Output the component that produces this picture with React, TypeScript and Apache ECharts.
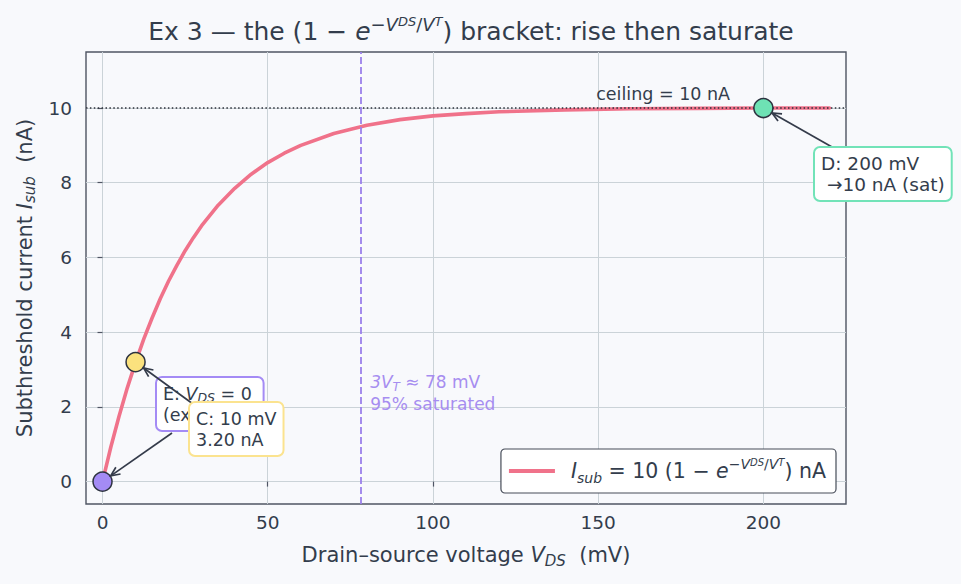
import React, { useEffect, useRef } from "react";
import * as echarts from "echarts";

// V_DS (mV) and I_sub (nA)
const vds = [0, 2.5, 5, 7.5, 10, 12.5, 15, 17.5, 20, 22.5, 25, 27.5, 30, 35, 40, 45, 50, 55, 60, 70, 80, 90, 100, 110, 120, 140, 160, 180, 200, 220];
const isub = [0, 0.92, 1.75, 2.51, 3.19, 3.82, 4.38, 4.9, 5.37, 5.79, 6.18, 6.53, 6.85, 7.4, 7.85, 8.23, 8.54, 8.79, 9.0, 9.32, 9.54, 9.69, 9.79, 9.85, 9.9, 9.95, 9.98, 9.99, 10.0, 10.0];
const xTicks = [0, 50, 100, 150, 200];
const yTicks = [0, 2, 4, 6, 8, 10];
const ceiling = 10;
const threeVt = 78;
const markerNames = ["E", "C", "D"];
const markerV = [0, 10, 200];
const markerI = [0, 3.2, 10];
const markerColors = ["#a48bf5", "#fbe27e", "#6ee2b4"];

const F = "DejaVu Sans";
const INK = "#333d4c";

export default function App() {
  const ref = useRef<HTMLDivElement>(null);
  useEffect(() => {
    const chart = echarts.init(ref.current!, null, { renderer: "svg" });
    const curve = vds.map((v, i) => [v, isub[i]]);
    const pts = markerV.map((v, i) => ({
      value: [v, markerI[i]],
      name: markerNames[i],
      itemStyle: { color: markerColors[i] },
    }));
    const mathRich = (n: number, lh: number) => {
      const base = { fontFamily: F, color: INK, fontWeight: "normal" as const };
      return {
        n: { ...base, fontSize: n, lineHeight: lh },
        i: { ...base, fontSize: n, fontStyle: "italic", lineHeight: lh },
        s: { ...base, fontSize: Math.round(n * 0.7), fontStyle: "italic", lineHeight: Math.round(n * 0.8), verticalAlign: "bottom" },
        sp: { ...base, fontSize: Math.round(n * 0.7), lineHeight: Math.round(n * 0.75), verticalAlign: "top" },
        spi: { ...base, fontSize: Math.round(n * 0.7), fontStyle: "italic", lineHeight: Math.round(n * 0.75), verticalAlign: "top" },
        sps: { ...base, fontSize: Math.round(n * 0.5), fontStyle: "italic", lineHeight: Math.round(n * 0.95), verticalAlign: "top" },
        g: { width: 11 },
      };
    };

    const option: any = {
      animation: false,
      backgroundColor: "#f8f9fc",
      title: {
        text: "{n|Ex 3 — the (1 − }{i|e}{sp|−}{spi|V}{sps|DS}{sp|/}{spi|V}{sps|T}{n|) bracket: rise then saturate}",
        left: 466,
        textAlign: "center",
        top: 10,
        textStyle: { fontWeight: "normal", rich: mathRich(25, 32) },
      },
      grid: { left: 86, right: 115, top: 52, bottom: 80, show: true, borderColor: "#4f5563", borderWidth: 1.4, backgroundColor: "transparent" },
      legend: {
        data: ["curve"],
        right: 125,
        bottom: 91,
        padding: [8, 10, 8, 8],
        icon: "rect",
        itemWidth: 46,
        itemHeight: 4,
        backgroundColor: "#ffffff",
        borderColor: "#474d59",
        borderWidth: 1.2,
        borderRadius: 4,
        formatter: () => "{g| }{i|I}{s|sub}{n| = 10 (1 − }{i|e}{sp|−}{spi|V}{sps|DS}{sp|/}{spi|V}{sps|T}{n|) nA}",
        textStyle: { rich: mathRich(20.5, 28) },
      },
      xAxis: {
        type: "value",
        min: -5,
        max: 225,
        name: "{n|Drain–source voltage }{i|V}{s|DS}{n|  (mV)}",
        nameLocation: "middle",
        nameGap: 38,
        nameTextStyle: { rich: mathRich(21, 26) },
        axisLine: { show: false },
        axisTick: { show: true, customValues: xTicks, length: 5, lineStyle: { color: "#4f5563", width: 1.2 } },
        axisLabel: { customValues: xTicks, fontFamily: F, fontSize: 18.5, color: INK, margin: 9 },
        splitLine: { show: true, lineStyle: { color: "#cbd3d8", width: 1 } },
      },
      yAxis: {
        type: "value",
        min: -0.6,
        max: 11.5,
        name: "{n|Subthreshold current }{i|I}{s|sub}{n|  (nA)}",
        nameLocation: "middle",
        nameGap: 47,
        nameRotate: 90,
        nameTextStyle: { rich: mathRich(21, 26) },
        axisLine: { show: false },
        axisTick: { show: true, customValues: yTicks, length: 5, lineStyle: { color: "#4f5563", width: 1.2 } },
        axisLabel: { customValues: yTicks, fontFamily: F, fontSize: 18.5, color: INK, margin: 14 },
        splitLine: { show: true, lineStyle: { color: "#cbd3d8", width: 1 } },
      },
      series: [
        {
          name: "curve",
          type: "line",
          data: curve,
          smooth: false,
          symbol: "none",
          lineStyle: { color: "#f0728a", width: 3.6, join: "round", cap: "round" },
          itemStyle: { color: "#f0728a" },
          z: 3,
        },
        {
          name: "refs",
          type: "line",
          data: [],
          z: 4,
          markLine: {
            silent: true,
            symbol: "none",
            label: { show: false },
            data: [
              { yAxis: ceiling, lineStyle: { color: "#2b2f38", type: [1.5, 2.4], width: 1.5 } },
              { xAxis: threeVt, lineStyle: { color: "#9b80ea", type: [7, 3], width: 1.8 } },
            ],
          },
        },
        {
          name: "markers",
          type: "scatter",
          data: pts,
          symbolSize: 19,
          itemStyle: { borderColor: "#2d3340", borderWidth: 1.5, opacity: 1 },
          z: 6,
        },
      ],
    };
    chart.setOption(option);

    const px = (v: number, i: number) => chart.convertToPixel({ gridIndex: 0 }, [v, i]) as number[];
    const arrow = (x1: number, y1: number, tx: number, ty: number, z: number) => {
      const ang = Math.atan2(ty - y1, tx - x1);
      const r = 10;
      const x2 = tx - r * Math.cos(ang);
      const y2 = ty - r * Math.sin(ang);
      const L = 10, a = 0.42;
      return [
        { type: "line", z, shape: { x1, y1, x2, y2 }, style: { stroke: "#343b4a", lineWidth: 1.7 } },
        {
          type: "polyline",
          z,
          shape: { points: [[x2 - L * Math.cos(ang - a), y2 - L * Math.sin(ang - a)], [x2, y2], [x2 - L * Math.cos(ang + a), y2 - L * Math.sin(ang + a)]] },
          style: { stroke: "#343b4a", lineWidth: 1.7, fill: null },
        },
      ];
    };
    const box = (x: number, y: number, text: string, border: string, z: number, FS: number) => ({
      type: "text",
      z,
      x,
      y,
      style: {
        text,
        fontFamily: F,
        fontSize: FS,
        fill: INK,
        lineHeight: 21,
        backgroundColor: "#ffffff",
        borderColor: border,
        borderWidth: 2,
        borderRadius: 5,
        padding: [5, 6, 5, 6],
        rich: {
          n: { fontFamily: F, fontSize: FS, fill: INK, lineHeight: 21 },
          i: { fontFamily: F, fontSize: FS, fill: INK, fontStyle: "italic", lineHeight: 21 },
          s: { fontFamily: F, fontSize: 12.5, fill: INK, fontStyle: "italic", lineHeight: 14, verticalAlign: "bottom" },
        },
      },
    });

    const pE = px(markerV[0], markerI[0]);
    const pC = px(markerV[1], markerI[1]);
    const pD = px(markerV[2], markerI[2]);
    const pCeil = px(150, ceiling);
    const pVt = px(81, 2.95);
    const VT = "#a68df0";

    chart.setOption({
      graphic: [
        {
          type: "text",
          z: 90,
          x: pCeil[0] - 2,
          y: pCeil[1] - 5,
          style: { text: "ceiling = 10 nA", fontFamily: F, fontSize: 17.5, fill: INK, verticalAlign: "bottom" },
        },
        {
          type: "text",
          z: 90,
          x: pVt[0],
          y: pVt[1],
          style: {
            text: "{i|3V}{s|T}{n| ≈ 78 mV}\n{n|95% saturated}",
            fontFamily: F,
            fontSize: 17,
            fill: VT,
            lineHeight: 22,
            rich: {
              n: { fontFamily: F, fontSize: 17, fill: VT, lineHeight: 22 },
              i: { fontFamily: F, fontSize: 17, fill: VT, fontStyle: "italic", lineHeight: 22 },
              s: { fontFamily: F, fontSize: 12, fill: VT, fontStyle: "italic", lineHeight: 14, verticalAlign: "bottom" },
            },
          },
        },
        ...arrow(172, 433, pE[0], pE[1], 100),
        box(157, 378, "{n|E: }{i|V}{s|DS}{n| = 0}\n{n|(exactly 0)}", "#a48bf5", 101, 17.5),
        ...arrow(193, 404, pC[0], pC[1], 102),
        box(190, 403, "{n|C: 10 mV}\n{n|3.20 nA}", "#fbe38f", 103, 17.5),
        ...arrow(832, 147, pD[0], pD[1], 104),
        box(815, 148, "{n|D: 200 mV}\n{n| →10 nA (sat)}", "#72e3b8", 105, 18.5),
      ],
    });
    return () => chart.dispose();
  }, []);
  return <div ref={ref} style={{ position: "fixed", left: 0, top: 0, width: 961, height: 584 }} />;
}
